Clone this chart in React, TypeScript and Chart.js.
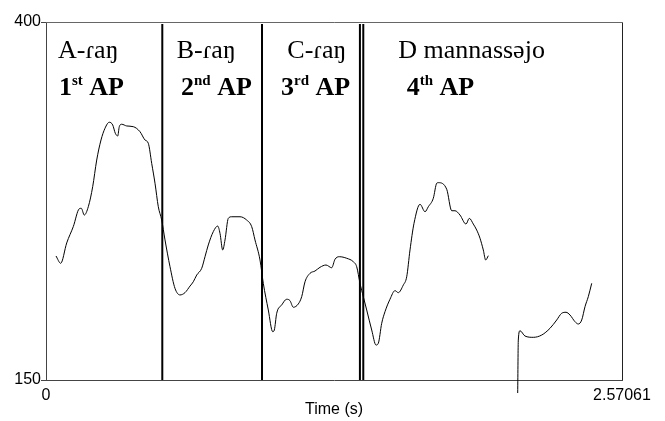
import React, { useEffect, useRef } from 'react';
import { Chart, registerables } from 'chart.js';

Chart.register(...registerables);

// ---- data ----
const timesA = [0.0446,0.0656,0.0924,0.1218,0.1486,0.1575,0.1709,0.1888,0.2084,0.2263,
  0.2455,0.2633,0.2825,0.2977,0.3093,0.3200,0.3271,0.3378,0.3602,0.3896,
  0.4195,0.4418,0.4566,0.4717,0.4865,0.5012,0.5164,0.5311,0.5534,0.5757,
  0.5980,0.6203,0.6427,0.6574,0.6726,0.6949,0.7096,0.7243,0.7466,0.7663,
  0.7766,0.7886,0.7989,0.8136,0.8288,0.8658,0.8957,0.9180,0.9327,0.9551,
  0.9698,0.9921,1.0118,1.0189,1.0296,1.0519,1.0742,1.0889,1.1037,1.1260,
  1.1412,1.1559,1.1782,1.2005,1.2228,1.2496,1.2750,1.2898,1.3090,1.3420,
  1.3714,1.3866,1.4013,1.4161,1.4312,1.4536,1.4728,1.4830,1.4982,1.5129,
  1.5352,1.5575,1.5723,1.5946,1.6098,1.6245,1.6424,1.6692,1.6915,1.7062,
  1.7285,1.7437,1.7508,1.7883,1.8106,1.8253,1.8476,1.8744,1.8892,1.9070,
  1.9222,1.9369,1.9516,1.9623,1.9740];
const pitchA = [236.6,231.5,245.7,257.1,269.6,269.9,265.2,271.0,285.0,303.6,
  317.6,325.8,330.0,328.1,322.3,320.4,326.9,328.6,327.4,326.9,
  323.4,317.6,315.3,301.3,287.4,271.0,261.7,247.8,229.1,214.0,
  209.4,211.0,215.6,218.6,223.3,228.0,236.1,244.3,253.6,257.5,
  252.4,240.8,247.8,262.9,264.0,264.0,261.7,257.1,247.8,233.8,
  217.5,198.9,183.7,184.9,196.6,202.4,206.4,205.4,200.8,203.1,
  208.2,218.6,224.5,226.1,228.7,230.3,228.4,234.3,236.1,235.0,
  232.6,229.1,217.5,208.2,198.9,184.9,174.4,175.6,189.6,197.7,
  206.4,212.4,211.0,216.3,222.1,240.8,259.4,272.7,267.5,271.0,
  276.9,287.4,287.8,283.2,268.2,268.2,265.2,258.9,262.9,258.9,
  254.7,249.0,240.8,233.8,236.8];

const timesB = [2.1051,2.1078,2.1154,2.1377,2.1748,2.2123,2.2493,2.2792,2.3015,
  2.3207,2.3385,2.3609,2.3756,2.3908,2.4055,2.4202,2.4354];
const pitchB = [140.9,177.9,184.4,180.7,179.8,181.4,186.1,191.9,196.6,
  197.3,195.4,190.7,189.1,191.9,201.2,208.2,217.5];

const boundaryTimes = [0.519, 0.964, 1.401, 1.416];
const boundaryTopHz = 398.6;

const xMin = 0;
const xMax = 2.57061;
const yMin = 150;
const yMax = 400;
const xTicks = [0, 2.57061];
const yTicks = [150, 400];
const xTitle = 'Time (s)';

const segmentNames = ['A-ɾaŋ', 'B-ɾaŋ', 'C-ɾaŋ', 'D mannassəjo'];
const apNumbers = ['1', '2', '3', '4'];
const apSuffixes = ['st', 'nd', 'rd', 'th'];

// ---- layout (pixels, relative to the plot area) ----
const NAME_X = [12, 130.7, 241.3, 352.3];
const AP_X = [13, 135, 235, 360.7];
const NAME_BASE = 36;
const AP_BASE = 73;

const toPoints = (xs: number[], ys: number[]) => xs.map((x, i) => ({ x, y: ys[i] }));

const annotationPlugin = {
  id: 'annotations',
  afterDatasetsDraw(chart: any) {
    const { ctx, chartArea } = chart;
    ctx.save();
    ctx.lineWidth = 1;
    ctx.strokeStyle = '#666';
    ctx.beginPath();
    ctx.moveTo(chartArea.left, Math.round(chartArea.top) + 0.5);
    ctx.lineTo(Math.round(chartArea.right) + 0.5, Math.round(chartArea.top) + 0.5);
    ctx.stroke();
    ctx.strokeStyle = '#222';
    ctx.beginPath();
    ctx.moveTo(Math.round(chartArea.right) + 0.5, Math.round(chartArea.top) + 0.5);
    ctx.lineTo(Math.round(chartArea.right) + 0.5, chartArea.bottom);
    ctx.stroke();

    ctx.fillStyle = '#000';
    ctx.textBaseline = 'alphabetic';
    ctx.textAlign = 'left';
    segmentNames.forEach((name, i) => {
      ctx.font = '26px "Liberation Serif"';
      ctx.fillText(name, chartArea.left + NAME_X[i], chartArea.top + NAME_BASE);
      let x = chartArea.left + AP_X[i];
      const y = chartArea.top + AP_BASE;
      ctx.font = 'bold 26px "Liberation Serif"';
      ctx.fillText(apNumbers[i], x, y);
      x += ctx.measureText(apNumbers[i]).width;
      ctx.font = 'bold 15px "Liberation Serif"';
      ctx.fillText(apSuffixes[i], x, y - 10);
      x += ctx.measureText(apSuffixes[i]).width;
      ctx.font = 'bold 26px "Liberation Serif"';
      ctx.fillText(' AP', x, y);
    });
    ctx.restore();
  },
};

export default function App() {
  const ref = useRef<HTMLCanvasElement | null>(null);
  useEffect(() => {
    if (!ref.current) return;
    const boundaryDatasets = boundaryTimes.map((t) => ({
      data: [{ x: t, y: yMin }, { x: t, y: boundaryTopHz }],
      borderColor: '#000',
      borderWidth: 2,
      pointRadius: 0,
      fill: false,
    }));
    const chart = new Chart(ref.current, {
      type: 'line',
      data: {
        datasets: [
          ...boundaryDatasets,
          {
            data: toPoints(timesA, pitchA),
            borderColor: '#000',
            borderWidth: 1,
            pointRadius: 0,
            cubicInterpolationMode: 'monotone',
            fill: false,
          },
          {
            data: toPoints(timesB, pitchB),
            borderColor: '#000',
            borderWidth: 1,
            pointRadius: 0,
            cubicInterpolationMode: 'monotone',
            fill: false,
            clip: false,
          },
        ] as any,
      },
      options: {
        animation: false,
        responsive: false,
        maintainAspectRatio: false,
        layout: { padding: { top: 22, right: 43, bottom: 0, left: 0 } },
        plugins: { legend: { display: false }, tooltip: { enabled: false } },
        scales: {
          x: {
            type: 'linear',
            min: xMin,
            max: xMax,
            afterBuildTicks: (scale: any) => { scale.ticks = xTicks.map((v) => ({ value: v })); },
            afterFit: (scale: any) => { scale.height = 41; },
            grid: { display: false, drawTicks: false },
            border: { display: true, color: '#444', width: 1 },
            ticks: {
              padding: 6,
              maxRotation: 0,
              autoSkip: false,
              color: '#000',
              font: { family: '"Liberation Sans"', size: 16 },
              callback: (v: any) => String(v),
            },
            title: {
              display: true,
              text: xTitle,
              color: '#000',
              font: { family: '"Liberation Sans"', size: 16 },
              padding: { top: 0, bottom: 2 },
            },
          },
          y: {
            type: 'linear',
            min: yMin,
            max: yMax,
            afterBuildTicks: (scale: any) => { scale.ticks = yTicks.map((v) => ({ value: v })); },
            afterFit: (scale: any) => { scale.width = 46; },
            grid: { display: true, drawOnChartArea: false, drawTicks: true, tickLength: 5, color: '#444' },
            border: { display: true, color: '#444', width: 1 },
            ticks: {
              padding: 0,
              autoSkip: false,
              color: '#000',
              font: { family: '"Liberation Sans"', size: 16 },
              callback: (v: any) => String(v),
            },
          },
        },
      },
      plugins: [annotationPlugin],
    } as any);
    return () => chart.destroy();
  }, []);

  return (
    <div style={{ position: 'fixed', left: 0, top: 0, width: 665, height: 421, background: '#fff' }}>
      <canvas ref={ref} width={665} height={421} style={{ width: 665, height: 421, display: 'block' }} />
    </div>
  );
}
